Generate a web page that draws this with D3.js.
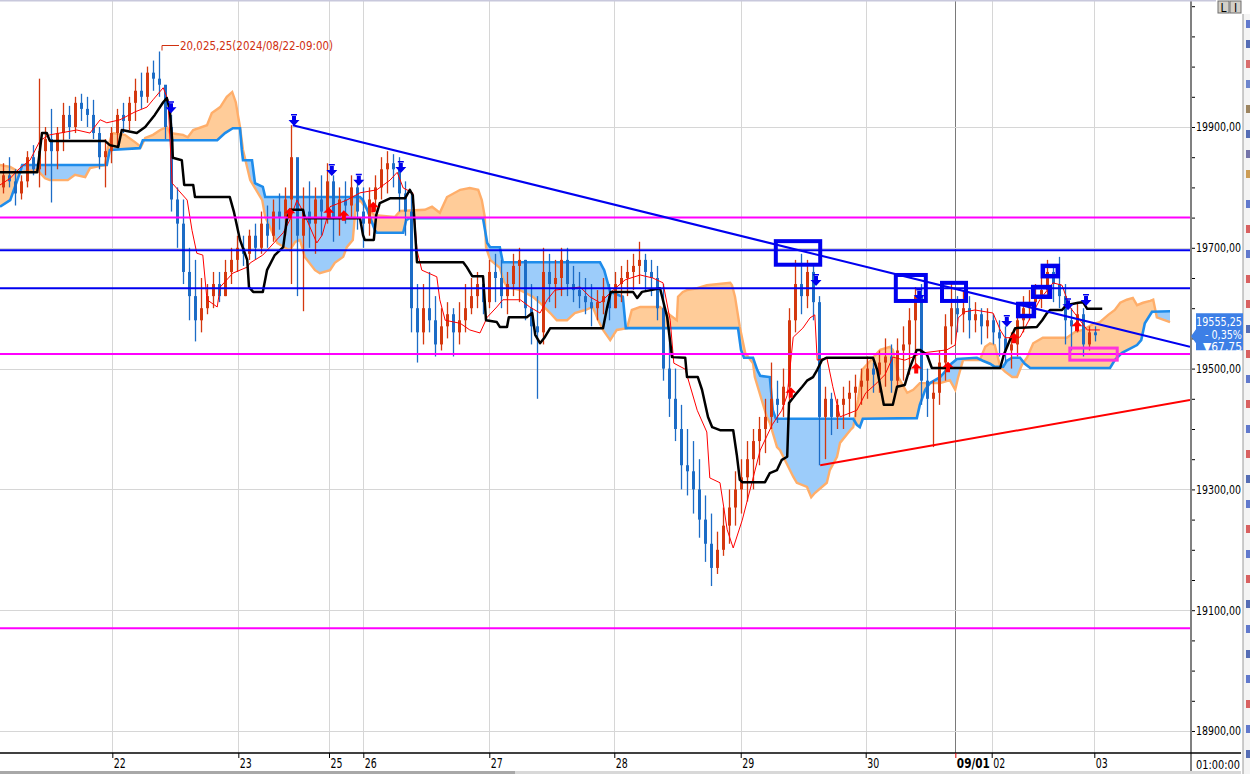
<!DOCTYPE html>
<html><head><meta charset="utf-8">
<script src="https://cdn.jsdelivr.net/npm/d3@7"></script>
<style>
html,body{margin:0;padding:0;background:#fff;overflow:hidden}
svg{display:block}
text{font-family:"Liberation Sans Narrow","DejaVu Sans Condensed","Liberation Sans",sans-serif}
</style></head><body>
<svg id="c" width="1250" height="774"></svg>
<script>
// ---------- DATA ----------
const firstOpen = 19800;
const highs = [19840,19850,19830,19820,19860,19870,19980,19900,19930,19900,19940,19935,19950,19955,19950,19945,19900,19880,19900,19930,
19940,19950,19980,19990,20000,20010,20025,19960,19920,19800,19780,19700,19680,19650,19640,19660,19660,19680,19700,19720,
19720,19730,19740,19760,19770,19780,19790,19800,19903,19840,19800,19810,19800,19820,19840,19820,19800,19810,19820,19810,
19800,19800,19820,19850,19860,19855,19850,19810,19790,19640,19640,19660,19620,19600,19610,19600,19610,19640,19650,19660,
19650,19680,19690,19680,19660,19690,19700,19680,19640,19620,19700,19690,19680,19700,19700,19670,19660,19650,19640,19630,
19650,19640,19660,19670,19680,19690,19710,19690,19680,19670,19640,19560,19500,19440,19400,19380,19350,19290,19260,19230,
19270,19300,19330,19350,19380,19400,19420,19450,19510,19480,19500,19600,19680,19690,19680,19670,19620,19470,19460,19450,
19470,19480,19490,19500,19520,19510,19530,19550,19540,19550,19570,19600,19635,19640,19500,19480,19530,19590,19640,19620,
19630,19620,19610,19600,19600,19590,19580,19570,19560,19600,19620,19630,19640,19650,19680,19670,19685,19640,19600,19610,
19600,19570,19570];
const lows = [19790,19800,19770,19780,19800,19820,19800,19820,19775,19830,19860,19880,19890,19910,19900,19880,19830,19800,19840,19870,
19890,19895,19910,19930,19940,19960,19950,19880,19760,19700,19640,19580,19545,19560,19590,19600,19610,19620,19640,19660,
19670,19680,19680,19690,19700,19710,19730,19720,19640,19620,19595,19700,19690,19720,19740,19710,19720,19740,19750,19730,
19700,19720,19760,19780,19790,19800,19760,19720,19560,19510,19540,19560,19520,19530,19550,19520,19540,19560,19590,19600,
19590,19600,19610,19600,19590,19620,19610,19580,19540,19450,19540,19610,19600,19620,19620,19610,19600,19590,19570,19580,
19590,19580,19600,19610,19620,19630,19640,19630,19620,19580,19480,19420,19380,19300,19290,19260,19220,19180,19140,19160,
19190,19210,19240,19260,19280,19300,19340,19360,19400,19410,19420,19440,19560,19590,19600,19580,19340,19350,19390,19400,
19400,19420,19420,19440,19450,19460,19460,19470,19460,19470,19480,19490,19500,19440,19420,19370,19440,19480,19540,19560,
19560,19550,19560,19540,19550,19540,19520,19510,19500,19520,19560,19580,19590,19600,19620,19610,19600,19540,19530,19560,
19520,19530,19545];
const closes = [19820,19810,19790,19810,19850,19830,19860,19880,19860,19890,19920,19900,19940,19930,19920,19890,19850,19860,19890,19920,
19910,19940,19960,19950,19990,19980,19970,19900,19780,19740,19660,19620,19580,19600,19620,19640,19620,19660,19680,19700,
19690,19720,19700,19740,19720,19760,19750,19780,19850,19720,19760,19740,19780,19760,19810,19750,19780,19770,19800,19760,
19740,19780,19800,19830,19840,19830,19790,19760,19600,19560,19600,19580,19540,19570,19590,19560,19580,19600,19620,19640,
19610,19660,19650,19620,19640,19670,19680,19600,19570,19560,19660,19640,19650,19680,19640,19630,19620,19610,19600,19610,
19620,19600,19640,19650,19660,19670,19680,19660,19650,19600,19500,19450,19400,19340,19330,19300,19250,19210,19170,19200,
19240,19270,19300,19320,19350,19380,19400,19420,19450,19440,19470,19580,19640,19620,19660,19610,19420,19450,19420,19440,
19450,19460,19470,19480,19500,19490,19510,19520,19480,19530,19540,19580,19620,19480,19450,19460,19510,19570,19600,19590,
19600,19580,19590,19570,19580,19560,19550,19530,19540,19580,19600,19610,19620,19630,19660,19640,19620,19580,19570,19590,
19540,19560,19555.25];

// Ichimoku lines: [bar position, price]
const kijun = [[0,19825],[6.2,19825],[7,19890],[7.8,19890],[8.3,19877],[17.5,19877],[18.3,19870],[19.7,19867],[20.3,19895],[22.8,19890],
[24.2,19900],[25.8,19920],[27.2,19941],[27.8,19948],[28.3,19928],[28.7,19878],[28.8,19849],[30.3,19845],[30.7,19804],[32.2,19804],
[32.5,19784],[38.3,19784],[39,19759],[40,19713],[41.2,19680],[41.5,19635],[42.2,19627],[43.8,19627],[44.5,19663],[45.8,19688],
[47.2,19701],[47.8,19746],[48.3,19763],[50.5,19763],[50.8,19749],[60,19749],[60.5,19721],[60.8,19713],[62.3,19713],[62.7,19754],
[63.3,19774],[65,19782],[67.5,19782],[68.3,19796],[68.8,19787],[69.5,19676],[77.2,19676],[77.8,19668],[78.7,19653],[80.5,19653],
[81,19580],[82.8,19577],[83.3,19569],[84.5,19569],[84.8,19585],[87.8,19585],[88.7,19592],[89.2,19556],[90,19542],[90.8,19552],
[91.7,19567],[100.5,19567],[101.2,19602],[101.8,19627],[105.5,19627],[106.2,19617],[107,19627],[110,19633],[111.2,19585],[112,19519],
[114.2,19518],[114.5,19486],[116.3,19486],[117,19465],[118,19420],[118.7,19403],[120,19398],[122.2,19398],[122.8,19357],[123.3,19316],
[123.7,19312],[127.5,19312],[128.3,19327],[129.5,19332],[130.3,19349],[131.2,19354],[131.5,19443],[132.5,19456],[133.7,19470],[134.5,19480],
[135.5,19486],[136.2,19498],[137,19514],[137.8,19518],[145.5,19518],[146.2,19498],[147.3,19440],[148.8,19440],[149.5,19470],[150.8,19473],
[151.7,19503],[152.8,19531],[153.3,19531],[154.5,19523],[155.3,19501],[166.7,19501],[167.3,19523],[168.3,19547],[169.2,19567],[172.8,19569],
[173.7,19580],[174.5,19592],[175,19597],[177,19597],[177.7,19605],[179.7,19609],[180.5,19610],[181.2,19599],[183.7,19599]];

const tenkan = [[0,19804],[1.7,19815],[3.3,19832],[5,19845],[6.7,19878],[8.3,19887],[10,19890],[12.8,19895],[15,19890],[16.7,19912],
[17.8,19907],[20,19912],[22.5,19925],[24.5,19933],[25.5,19945],[27.2,19965],[28,19945],[28.7,19807],[31.2,19779],[32,19729],
[32.8,19691],[33.8,19688],[34.5,19614],[36.2,19602],[36.7,19635],[38.8,19658],[41.2,19668],[41.7,19675],[43.8,19688],[45,19701],
[47.2,19725],[48.3,19746],[49.5,19779],[50.8,19754],[52.8,19708],[53.7,19721],[55,19768],[57.8,19779],[60,19791],[62.8,19796],
[65,19812],[66.2,19825],[67.2,19799],[68.8,19791],[69.5,19696],[70.3,19663],[72.8,19652],[73.3,19614],[74.2,19580],[76.7,19575],
[78.3,19564],[80,19559],[81.2,19585],[82.8,19602],[83.8,19614],[86.7,19614],[88.3,19602],[90,19592],[91.2,19614],[92.5,19630],
[96.7,19635],[98.3,19619],[100,19609],[102.2,19630],[104.2,19647],[106.7,19655],[108.8,19650],[110.5,19642],[111.7,19580],[112.3,19509],
[114.2,19499],[116.2,19431],[117.8,19395],[118.3,19319],[120,19311],[121.2,19233],[122.2,19203],[123.7,19249],[125,19299],[126.7,19365],
[128.7,19407],[130.3,19431],[131.2,19456],[132.2,19552],[133.8,19567],[135,19584],[135.8,19589],[136.2,19514],[137.8,19518],[138.8,19470],
[140,19420],[142.8,19431],[144.3,19460],[145.8,19473],[147.5,19490],[148.8,19519],[150.8,19514],[153.8,19526],[157.8,19531],[159.2,19539],
[159.7,19584],[160.8,19594],[162.5,19597],[165.5,19592],[166.7,19564],[167.5,19551],[170,19552],[171.7,19584],[173.3,19614],[175.5,19642],
[177,19638],[178.3,19602],[180,19580],[181.2,19564],[183.3,19564]];

const spanBlue = [[0,19768],[1.7,19779],[2.5,19801],[3.3,19824],[3.7,19837],[17.8,19837],[18.3,19862],[23.3,19865],[23.8,19878],[36.2,19878],
[37.5,19890],[38.8,19898],[40,19898],[40.3,19862],[40.5,19845],[42,19845],[42.5,19807],[43.8,19801],[44.2,19784],[60,19784],
[60.5,19779],[61.2,19763],[62.5,19729],[62.8,19725],[67.2,19725],[67.7,19746],[68.3,19749],[80.5,19749],[81.2,19708],[81.7,19701],
[83.3,19701],[83.8,19676],[100,19676],[100.7,19663],[101.7,19627],[103.8,19619],[104.3,19567],[123,19567],[123.5,19531],[124,19518],
[125.5,19518],[126.2,19498],[126.7,19488],[128.3,19486],[128.8,19431],[129.3,19417],[142.2,19417],[142.8,19407],[143.3,19403],[143.8,19417],
[152.8,19418],[153.3,19440],[154.2,19465],[155,19476],[156.7,19486],[157.5,19495],[158.3,19506],[159.5,19516],[162.8,19518],[163.8,19513],
[165,19508],[165.8,19503],[167.2,19503],[167.8,19513],[168.7,19518],[170,19518],[170.8,19508],[171.7,19501],[185,19501],[185.8,19514],
[187,19526],[189.5,19539],[190.2,19547],[190.8,19575],[192,19594],[195,19595]];

const spanOrange = [[0,19837],[1.7,19834],[3.3,19825],[6.2,19829],[7.5,19815],[8.3,19812],[11.3,19812],[12.5,19821],[14.2,19817],[15,19832],
[17.5,19837],[18,19867],[18.7,19890],[20.8,19887],[22.5,19875],[23.5,19867],[24.2,19882],[25.5,19887],[26.7,19895],[27.8,19900],
[28.3,19890],[30.5,19887],[31.3,19883],[32.2,19895],[34.5,19903],[35.3,19923],[36.7,19933],[37.8,19950],[38.7,19958],[39.3,19941],
[39.7,19917],[40,19900],[40.5,19862],[41.7,19812],[42.5,19799],[43.7,19779],[44.2,19751],[45,19734],[46.2,19708],[47.5,19700],
[48.3,19696],[49.2,19710],[50,19713],[50.8,19685],[52.5,19663],[53.3,19658],[55,19663],[55.8,19675],[57.2,19685],[57.8,19701],
[58.8,19713],[59.3,19771],[60,19779],[61.2,19763],[62.5,19754],[65.8,19751],[66.7,19761],[70.8,19763],[72,19768],[73.3,19758],
[74.5,19784],[76.7,19796],[78.3,19799],[79.7,19796],[80.3,19779],[80.8,19751],[81,19701],[81.7,19680],[83.3,19667],[84,19644],
[84.5,19635],[86.7,19630],[88.8,19619],[90,19609],[91.7,19592],[92.8,19580],[94.5,19580],[95.8,19592],[97.5,19597],[98.8,19602],
[99.7,19580],[100.5,19564],[101.7,19547],[102.8,19564],[104.5,19567],[105.3,19597],[106.7,19602],[110,19602],[111.2,19592],[112.8,19580],
[113,19619],[113.8,19627],[114.5,19630],[116.2,19633],[117.8,19638],[121.7,19642],[122,19638],[122.5,19619],[123.3,19569],[124.2,19526],
[125.5,19509],[125.8,19486],[127.8,19420],[128.3,19410],[129.5,19370],[130,19365],[132.2,19321],[132.8,19311],[134.5,19304],[135.2,19287],
[135.8,19294],[137.8,19311],[138.3,19332],[139.5,19354],[140,19377],[141.7,19398],[142.2,19403],[143,19448],[143.7,19498],[145.5,19518],
[146.7,19531],[148.3,19536],[148.8,19531],[149.7,19486],[151.2,19460],[152.2,19465],[153.3,19476],[156.7,19476],[158.3,19481],[159.2,19465],
[159.7,19486],[160.5,19514],[163.3,19514],[164.2,19536],[165,19542],[165.8,19539],[166.7,19503],[167.5,19495],[168.7,19486],[169.5,19486],
[170.3,19506],[171.2,19519],[172.2,19542],[173.8,19551],[177.8,19551],[179.2,19561],[180.5,19564],[182.2,19574],[183.3,19577],[184.7,19589],
[185.8,19597],[186.7,19609],[187.8,19614],[188.8,19617],[189.5,19605],[190.5,19609],[191.7,19612],[192.2,19614],[192.8,19585],[195,19577]];

const magentaLevels = [19750, 19524, 19070];
const blueLevels = [19696, 19633];
const blueTrend = [[48.8,19903],[198.33,19536]];
const redTrend = [[136.7,19340],[198.33,19448]];
const blueBoxes = [[129.3,136.7,19711,19672],[149.3,154.3,19655,19612],[157,161,19642,19612]];
const smallBoxes = [[169.7,172.3,19607,19587],[172.2,175,19635,19619],[173.8,176.3,19670,19653]];
const pinkBoxes = [[178.3,186.2,19534,19514]];
const sellArrows = [[28.5,19931],[49,19910],[55.3,19827],[59.8,19811],[66.8,19832],[136,19645],[153.2,19620],[167.8,19577],[178,19605],[181,19612]];
const buyArrows = [[48.3,19758],[54.8,19759],[57.3,19754],[62.2,19768],[131.8,19461],[152.7,19501],[158,19503],[169,19551],[179.5,19571]];

const dayTicks = [18.72,39.72,54.83,60.55,81.55,102.38,123.45,144.28,159.22,165.28,182.38];
const dayLabels = ["22","23","25","26","27","28","29","30","09/01","02","03"];
const priceMinor = d3.range(18900, 20101, 50);
const priceMajor = [18900,19100,19300,19500,19700,19900];
const priceLabels = ["18900,00","19100,00","19300,00","19500,00","19700,00","19900,00"];
const highNote = {t:27, price:20025, label:"20,025,25(2024/08/22-09:00)"};
const lastPrice = {price:19555.25, lines:["19555,25","- 0,35%","\u25BC67,75"], widths:[46,37,39]};

// ---------- SCALES ----------
const svg = d3.select("#c");
const plotW = 1190, axisY = 753;
const x = d3.scaleLinear().domain([0,198.33]).range([0,plotW]);
const y = d3.scaleLinear().domain([18900,19900]).range([731,127]);
const FONT = "'Liberation Sans Narrow','DejaVu Sans Condensed',sans-serif";

// right toolbar strip (drawn first, behind everything)
svg.append("rect").attr("x",1243).attr("y",14).attr("width",7).attr("height",760).attr("fill","#f4f4f4");
svg.append("line").attr("x1",1243).attr("x2",1243).attr("y1",14).attr("y2",774).attr("stroke","#9a9a9a");
const iconY = [20,40,60,80,105,130,150,170,200,225,250,275,300,325,350,375,400,425,450,475,500,525,550,575,600,625,650,675,700,725,750];
const iconC = ["#3050c0","#2040a0","#d04040","#4060c0","#806030","#2040a0","#4a4a90","#c08020","#3050c0","#d03030","#3050c0","#d03030","#d03030","#2040a0","#d03030","#3050c0","#d03030","#3050c0","#d03030","#2040a0","#3050c0","#d03030","#3050c0","#d03030","#2040a0","#3050c0","#2040a0","#3050c0","#d03030","#3050c0","#2040a0"];
svg.selectAll("rect.ic").data(iconY).join("rect").attr("class","ic").attr("x",1246).attr("y",d=>d).attr("width",4).attr("height",8)
  .attr("fill",(d,i)=>iconC[i]).attr("opacity",0.75);

const defs = svg.append("defs");
defs.append("clipPath").attr("id","plot").append("rect").attr("x",0).attr("y",0).attr("width",plotW).attr("height",axisY);

const areaDown = d => d3.area().x(p=>x(p[0])).y0(axisY).y1(p=>y(p[1]))(d);
const areaUp = d => d3.area().x(p=>x(p[0])).y0(0).y1(p=>y(p[1]))(d);
defs.append("clipPath").attr("id","aboveBlue").append("path").attr("d",areaUp(spanBlue));
defs.append("clipPath").attr("id","aboveOrange").append("path").attr("d",areaUp(spanOrange));

const plot = svg.append("g").attr("clip-path","url(#plot)");

// grid
plot.selectAll("line.vg").data(dayTicks).join("line")
  .attr("x1",d=>Math.round(x(d))+0.5).attr("x2",d=>Math.round(x(d))+0.5).attr("y1",0).attr("y2",axisY)
  .attr("stroke",(d,i)=>dayLabels[i]==="09/01"?"#7a7a7a":"#d6d6d6").attr("stroke-width",1);
plot.selectAll("line.hg").data(priceMajor).join("line")
  .attr("x1",0).attr("x2",plotW).attr("y1",d=>Math.round(y(d))+0.5).attr("y2",d=>Math.round(y(d))+0.5)
  .attr("stroke","#d6d6d6").attr("stroke-width",1);

// cloud fills
plot.append("g").attr("clip-path","url(#aboveBlue)")
  .append("path").attr("d",areaDown(spanOrange)).attr("fill","#FFCC99");
plot.append("g").attr("clip-path","url(#aboveOrange)")
  .append("path").attr("d",areaDown(spanBlue)).attr("fill","#9CCCFA");

const line = d3.line().x(p=>x(p[0])).y(p=>y(p[1]));
plot.append("path").attr("d",line(spanOrange)).attr("fill","none").attr("stroke","#FFAE6A").attr("stroke-width",2.4);
plot.append("path").attr("d",line(spanBlue)).attr("fill","none").attr("stroke","#1E8CEB").attr("stroke-width",2.6);

// candles
const candles = closes.map((c,i)=>({i, o: i===0?firstOpen:closes[i-1], h:highs[i], l:lows[i], c}));
const cg = plot.append("g");
candles.forEach(d=>{
  const up = d.c >= d.o;
  const col = up ? "#D4380E" : "#1C6CC6";
  const cx = Math.round(x(d.i+0.5));
  cg.append("line").attr("x1",cx+0.5).attr("x2",cx+0.5).attr("y1",y(d.h)).attr("y2",y(d.l))
    .attr("stroke",col).attr("stroke-width",1.3);
  const top = y(Math.max(d.o,d.c)), bot = y(Math.min(d.o,d.c));
  cg.append("rect").attr("x",cx-1).attr("width",3).attr("y",top).attr("height",Math.max(1,bot-top)).attr("fill",col);
});

// tenkan / kijun
plot.append("path").attr("d",line(tenkan)).attr("fill","none").attr("stroke","#FF0000").attr("stroke-width",1);
plot.append("path").attr("d",line(kijun)).attr("fill","none").attr("stroke","#000").attr("stroke-width",2.5).attr("stroke-linejoin","round");

// horizontal levels
plot.selectAll("line.mg").data(magentaLevels).join("line")
  .attr("x1",0).attr("x2",plotW).attr("y1",d=>y(d)).attr("y2",d=>y(d)).attr("stroke","#FF00FF").attr("stroke-width",2);
plot.selectAll("line.bl").data(blueLevels).join("line")
  .attr("x1",0).attr("x2",plotW).attr("y1",d=>y(d)).attr("y2",d=>y(d)).attr("stroke","#0000F0").attr("stroke-width",2);

// trend lines
plot.append("path").attr("d",line(blueTrend)).attr("stroke","#0000F0").attr("stroke-width",2).attr("fill","none");
plot.append("path").attr("d",line(redTrend)).attr("stroke","#FF0000").attr("stroke-width",2).attr("fill","none");

// boxes
const boxRect = (sel, data, col, sw) => sel.selectAll(null).data(data).join("rect")
  .attr("x",d=>x(d[0])).attr("y",d=>y(d[2])).attr("width",d=>x(d[1])-x(d[0])).attr("height",d=>y(d[3])-y(d[2]))
  .attr("fill","none").attr("stroke",col).attr("stroke-width",sw);
boxRect(plot.append("g"), blueBoxes, "#0000EE", 4);
boxRect(plot.append("g"), smallBoxes, "#0000EE", 4.5);
boxRect(plot.append("g"), pinkBoxes, "#FF33DD", 3);

// arrows
plot.selectAll("path.sa").data(sellArrows).join("path")
  .attr("transform",d=>`translate(${x(d[0])},${y(d[1])})`)
  .attr("d","M-3,-7h6v1.5h-6z M-2,-5h4v4h3.5l-5.5,6l-5.5,-6h3.5z").attr("fill","#0000EE");
plot.selectAll("path.ba").data(buyArrows).join("path")
  .attr("transform",d=>`translate(${x(d[0])},${y(d[1])})`)
  .attr("d","M0,-5l5.5,5.5h-3.5v5h-4v-5h-3.5z").attr("fill","#FF0000");

// high annotation
const hx = x(highNote.t), hy = y(highNote.price);
svg.append("path").attr("d",`M${hx},${hy-1}V${hy-6}H${hx+17}`).attr("stroke","#D0300F").attr("fill","none").attr("stroke-width",1);
svg.append("text").attr("x",hx+18).attr("y",hy-2).attr("fill","#D0300F").attr("font-size",12.5)
  .attr("textLength",153).attr("lengthAdjust","spacingAndGlyphs").text(highNote.label);

// ---------- AXES ----------
// right price axis
const yAxis = d3.axisRight(y).tickValues(priceMinor).tickSize(4)
  .tickFormat(d=>{const k=priceMajor.indexOf(d); return k>=0?priceLabels[k]:"";});
const ya = svg.append("g").attr("transform",`translate(${plotW+1},0)`).call(yAxis);
ya.select(".domain").remove();
ya.selectAll(".tick line").attr("stroke","#000");
ya.selectAll(".tick text").attr("font-size",12).attr("x",5).attr("fill","#000").attr("font-family",FONT)
  .filter(function(){return this.textContent.length>0;})
  .attr("textLength",45).attr("lengthAdjust","spacingAndGlyphs");
svg.append("line").attr("x1",plotW+1).attr("x2",plotW+1).attr("y1",0).attr("y2",axisY+18).attr("stroke","#808080").attr("stroke-width",2);

// bottom time axis
svg.append("line").attr("x1",0).attr("x2",1241).attr("y1",axisY).attr("y2",axisY).attr("stroke","#000").attr("stroke-width",1.5);
const xAxis = d3.axisBottom(x).tickValues(dayTicks).tickSize(5).tickFormat((d,i)=>dayLabels[i]);
const xa = svg.append("g").attr("transform",`translate(0,${axisY})`).call(xAxis);
xa.select(".domain").remove();
xa.selectAll(".tick line").attr("stroke",(d,i)=>dayLabels[i]==="09/01"?"#E00000":"#000");
xa.selectAll(".tick text").attr("text-anchor","start").attr("x",1).attr("y",5).attr("font-size",13.5).attr("fill","#000")
  .attr("font-weight",(d,i)=>dayLabels[i]==="09/01"?"bold":"normal").attr("font-family",FONT)
  .attr("textLength",(d,i)=>dayLabels[i].length>2?33:12).attr("lengthAdjust","spacingAndGlyphs");
svg.append("text").attr("x",1196).attr("y",769).attr("font-size",12.5).attr("fill","#000")
  .attr("textLength",44).attr("lengthAdjust","spacingAndGlyphs").text("01:00:00");

// bottom scrollbar strip
svg.append("rect").attr("x",0).attr("y",771).attr("width",1241).attr("height",3).attr("fill","#d8d8d8");
svg.append("rect").attr("x",0).attr("y",771).attr("width",515).attr("height",3).attr("fill","#a8a8a8");

// last price tag
const ly = y(lastPrice.price);
svg.append("path").attr("d",`M1196,${ly-22}H1243V${ly+15}H1196V${ly+8}L1191,${ly+1}L1196,${ly-6}Z`).attr("fill","#3D7FE6");
lastPrice.lines.forEach((s,k)=>{
  svg.append("text").attr("x",1242).attr("y",ly-9+k*12.5).attr("text-anchor","end").attr("font-size",12.5)
    .attr("fill","#fff").attr("textLength",lastPrice.widths[k]).attr("lengthAdjust","spacingAndGlyphs").text(s);
});

// top strip and buttons
svg.append("rect").attr("x",0).attr("y",0).attr("width",1216).attr("height",1.5).attr("fill","#c8c8dc");
[["L",1218],["I",1230]].forEach(([s,bx])=>{
  svg.append("rect").attr("x",bx).attr("y",1).attr("width",11).attr("height",12).attr("fill","#d4d0c8").attr("stroke","#6e6e6e").attr("stroke-width",1);
  svg.append("text").attr("x",bx+5.5).attr("y",11.5).attr("text-anchor","middle").attr("font-size",12).attr("fill","#000").text(s);
});
</script>
</body></html>
